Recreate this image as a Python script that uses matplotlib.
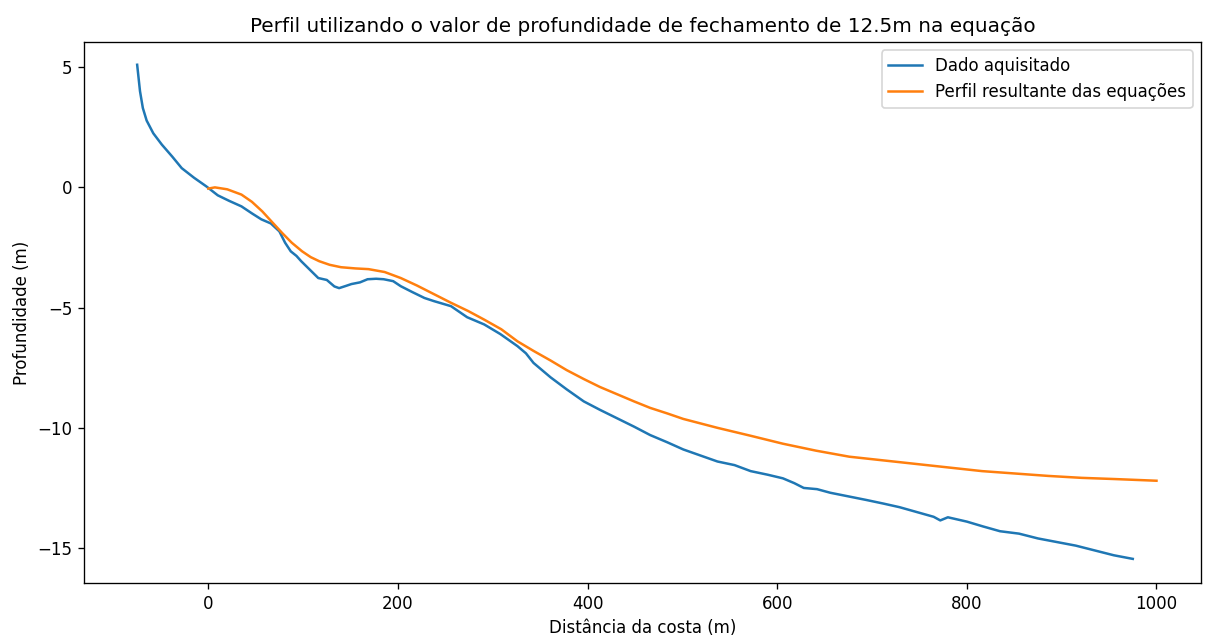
import matplotlib
matplotlib.use("Agg")
import matplotlib.pyplot as plt
from matplotlib.ticker import MultipleLocator

# Perfil medido (distância da costa em m, profundidade em m)
dist_medido = [-75, -72, -69, -65, -58, -49, -38, -28, -15, -2, 10, 22, 35, 46, 56,
               66, 75, 81, 87, 93, 98, 107, 116, 125, 133, 138, 145, 151, 160, 168,
               177, 185, 195, 203, 215, 228, 238, 256, 273, 291, 308, 326, 335, 343,
               352, 361, 378, 396, 413, 431, 449, 466, 484, 501, 519, 537, 555, 572,
               590, 606, 618, 628, 642, 656, 675, 694, 712, 729, 747, 765, 772, 780,
               800, 817, 835, 855, 875, 895, 915, 935, 955, 975]
prof_medido = [5.1, 4.0, 3.3, 2.78, 2.25, 1.78, 1.28, 0.8, 0.4, 0.04, -0.33, -0.56,
               -0.79, -1.08, -1.33, -1.5, -1.83, -2.3, -2.66, -2.85, -3.07, -3.42,
               -3.77, -3.85, -4.12, -4.19, -4.1, -4.02, -3.95, -3.82, -3.8, -3.82,
               -3.9, -4.11, -4.35, -4.6, -4.73, -4.94, -5.4, -5.7, -6.1, -6.6, -6.9,
               -7.3, -7.6, -7.9, -8.4, -8.9, -9.25, -9.6, -9.95, -10.3, -10.6, -10.9,
               -11.15, -11.4, -11.55, -11.8, -11.95, -12.1, -12.3, -12.5, -12.55,
               -12.7, -12.85, -13.0, -13.15, -13.3, -13.5, -13.7, -13.85, -13.72,
               -13.9, -14.1, -14.3, -14.4, -14.6, -14.75, -14.9, -15.1, -15.3, -15.45]

# Perfil calculado pelas equações
dist_eq = [0, 7, 20, 35, 46, 57, 67, 78, 88, 99, 108, 117, 128, 140, 155, 169, 186,
           203, 220, 238, 256, 274, 291, 309, 326, 343, 361, 378, 396, 413, 431, 449,
           466, 484, 501, 537, 572, 606, 641, 676, 711, 746, 781, 816, 851, 886, 921,
           956, 1000]
prof_eq = [-0.05, 0.0, -0.08, -0.3, -0.6, -1.0, -1.43, -1.9, -2.3, -2.66, -2.9,
           -3.07, -3.22, -3.32, -3.37, -3.4, -3.52, -3.77, -4.08, -4.44, -4.8, -5.14,
           -5.5, -5.9, -6.4, -6.8, -7.2, -7.6, -7.97, -8.3, -8.6, -8.9, -9.17, -9.4,
           -9.63, -10.0, -10.33, -10.66, -10.95, -11.2, -11.35, -11.5, -11.65, -11.8,
           -11.9, -12.0, -12.08, -12.13, -12.2]

fig, ax = plt.subplots(figsize=(1206 / 120, 635 / 120), dpi=120)
fig.subplots_adjust(left=0.0697, right=0.9959, top=0.934, bottom=0.082)

ax.plot(dist_medido, prof_medido, label="Dado aquisitado")
ax.plot(dist_eq, prof_eq, label="Perfil resultante das equações")

ax.set_xlim(-131, 1047)
ax.set_ylim(-16.45, 6.05)
ax.yaxis.set_major_locator(MultipleLocator(5))
ax.set_title("Perfil utilizando o valor de profundidade de fechamento de 12.5m na equação")
ax.set_xlabel("Distância da costa (m)")
ax.set_ylabel("Profundidade (m)")
ax.legend(loc="upper right")

plt.savefig("out.png", dpi=120)
